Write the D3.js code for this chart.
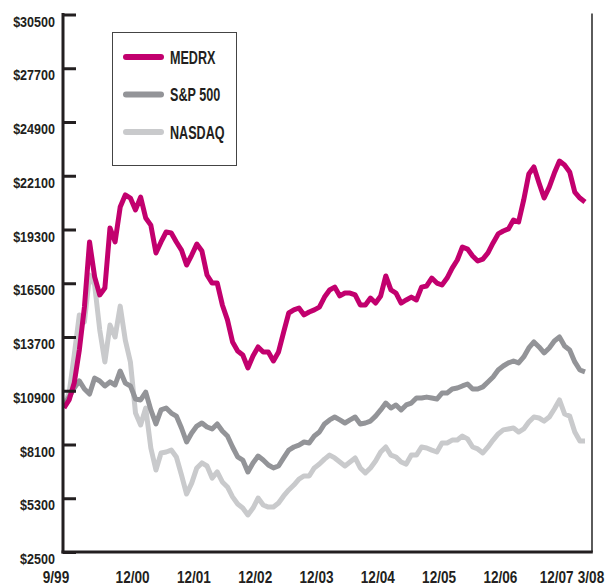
<!DOCTYPE html>
<html>
<head>
<meta charset="utf-8">
<script src="https://cdn.jsdelivr.net/npm/d3@7/dist/d3.min.js"></script>
<style>
  html, body { margin: 0; padding: 0; background: #fff; }
  svg { display: block; }
  text { font-family: "Liberation Sans Narrow", "Liberation Sans", Arial, sans-serif; font-weight: bold; fill: #231f20; }
</style>
</head>
<body>
<svg id="chart" width="608" height="585"></svg>
<script>
// ---- data (monthly, 9/99 .. 3/08, growth of $10,000) ----
const seriesNames = ["MEDRX", "S&P 500", "NASDAQ"];
const seriesColors = ["#c2006e", "#939498", "#c9cacc"];

const medrx = [10000,10420,11300,13020,15260,18650,16830,15890,16250,19380,
  18650,20470,21100,20940,20320,20990,19900,19530,18080,18650,
  19170,19120,18650,18230,17450,17970,18540,18180,16930,16510,
  16510,15370,14590,13440,12970,12760,12090,12710,13180,12920,
  12920,12450,12920,13960,14950,15110,15210,14850,15000,15110,
  15260,15780,16150,16300,15840,15990,15990,15890,15370,15370,
  15730,15470,15840,16880,16150,15990,15470,15630,15780,15630,
  16300,16360,16770,16510,16410,16770,17290,17710,18390,18280,
  17920,17660,17760,18080,18600,19070,19220,19330,19790,19690,
  20840,22190,22560,21720,20940,21510,22240,22870,22660,22300,
  21250,20940,20730];

const sp500 = [10160,10570,11040,11410,10990,10730,11560,11410,11150,11360,
  11200,11930,11300,11150,10470,10420,10830,9900,9170,9900,
  10000,9740,9580,8960,8230,8700,9060,9220,9010,8910,
  9170,8800,8540,7970,7450,7290,6670,7140,7500,7290,
  7030,6880,6980,7400,7810,7970,8070,8230,8180,8540,
  8750,9170,9380,9530,9380,9220,9380,9530,9170,9220,
  9320,9580,9900,10260,10000,10160,9900,10160,10260,10520,
  10520,10570,10520,10470,10780,10780,10990,11040,11150,11250,
  10990,10990,11100,11360,11620,11980,12190,12350,12450,12350,
  12660,13130,13440,13180,12870,13130,13490,13700,13230,13020,
  12400,11980,11880];

const nasdaq = [10160,10780,12760,14850,14480,16930,16410,14060,12400,14320,
  13700,15310,13540,12400,9740,9120,10000,7920,6770,7660,
  7710,7810,7450,6510,5520,6090,6880,7140,6980,6350,
  6670,6150,5890,5370,5000,4790,4430,4790,5310,4950,
  4840,4840,5050,5420,5730,5990,6300,6460,6460,6880,
  7080,7340,7550,7400,7190,6980,7190,7400,6880,6620,
  6880,7240,7710,7970,7550,7450,7190,7080,7550,7550,
  7970,7920,7810,7710,8180,8180,8330,8330,8540,8390,
  7970,7870,7660,7970,8330,8650,8860,8910,8960,8750,
  8910,9270,9530,9480,9320,9530,9950,10420,9690,9580,
  8750,8280,8280];

const yTickValues = [2500,5300,8100,10900,13700,16500,19300,22100,24900,27700,30500];
const xTickLabels = ["9/99","12/00","12/01","12/02","12/03","12/04","12/05","12/06","12/07","3/08"];
const xTickMonths = [0,15,27,39,51,63,75,87,99,102];   // months since 9/99

(function () {
// ---- layout ----
const svg = d3.select("#chart");
const mLeft = 63, mRight = 592, mTop = 14.5, mBottom = 552;
const plotStart = 64, plotEnd = 585;

const x = d3.scaleLinear().domain([0, medrx.length - 1]).range([plotStart, plotEnd]);
const y = d3.scaleLinear().domain([2500, 30500]).range([mBottom, mTop]);

// condensed text helper
function condensed(sel, px, py, sx) {
  sel.attr("x", 0).attr("y", 0)
     .attr("transform", (d, i) => `translate(${px(d, i)},${py(d, i)}) scale(${sx},1)`);
}

// right frame line
svg.append("line")
  .attr("x1", mRight).attr("x2", mRight).attr("y1", mTop - 1).attr("y2", mBottom)
  .attr("stroke", "#333").attr("stroke-width", 1.6);

// lines
const line = d3.line().x((d, i) => x(i)).y(d => y(d)).curve(d3.curveLinear);
const allSeries = [nasdaq, sp500, medrx];
const allColors = [seriesColors[2], seriesColors[1], seriesColors[0]];
allSeries.forEach((s, k) => {
  svg.append("path")
    .datum(s)
    .attr("d", line)
    .attr("fill", "none")
    .attr("stroke", allColors[k])
    .attr("stroke-width", 5)
    .attr("stroke-linejoin", "round")
    .attr("stroke-linecap", "butt");
});

// y axis
const yAxis = d3.axisRight(y).tickValues(yTickValues).tickSize(13).tickFormat("");
const gy = svg.append("g").attr("transform", `translate(${mLeft},0)`).call(yAxis);
gy.select(".domain").remove();
gy.selectAll(".tick line").attr("stroke", "#231f20").attr("stroke-width", 3);
svg.append("line")
  .attr("x1", mLeft).attr("x2", mLeft).attr("y1", mTop - 1.5).attr("y2", mBottom + 1.5)
  .attr("stroke", "#231f20").attr("stroke-width", 3);
// bottom axis line
svg.append("line")
  .attr("x1", mLeft - 1.5).attr("x2", mRight + 0.8).attr("y1", mBottom).attr("y2", mBottom)
  .attr("stroke", "#231f20").attr("stroke-width", 3);

// y labels
svg.append("g").selectAll("text")
  .data(yTickValues)
  .join("text")
  .attr("text-anchor", "end")
  .attr("font-size", 15.5)
  .text(d => "$" + d)
  .call(condensed, () => 55, d => y(d) + 12, 0.81);

// x labels
svg.append("g").selectAll("text")
  .data(xTickLabels)
  .join("text")
  .attr("text-anchor", "middle")
  .attr("font-size", 17)
  .text(d => d)
  .call(condensed, (d, i) => {
    const px = x(xTickMonths[i]);
    if (i === xTickLabels.length - 1) return px + 6;
    if (i === xTickLabels.length - 2) return px - 13;
    return px - 8;
  }, () => 583, 0.8);

// legend
const lg = svg.append("g");
lg.append("rect")
  .attr("x", 112.5).attr("y", 32.5).attr("width", 124).attr("height", 133)
  .attr("fill", "#fff").attr("stroke", "#444").attr("stroke-width", 1);
seriesNames.forEach((name, i) => {
  const ly = 57 + i * 37.5;
  lg.append("line")
    .attr("x1", 126).attr("x2", 161).attr("y1", ly).attr("y2", ly)
    .attr("stroke", seriesColors[i]).attr("stroke-width", 6).attr("stroke-linecap", "round");
  lg.append("text")
    .datum(name)
    .attr("font-size", 18)
    .text(name)
    .call(condensed, () => 170, () => ly + 6.5, 0.7);
});
})();
</script>
</body>
</html>
